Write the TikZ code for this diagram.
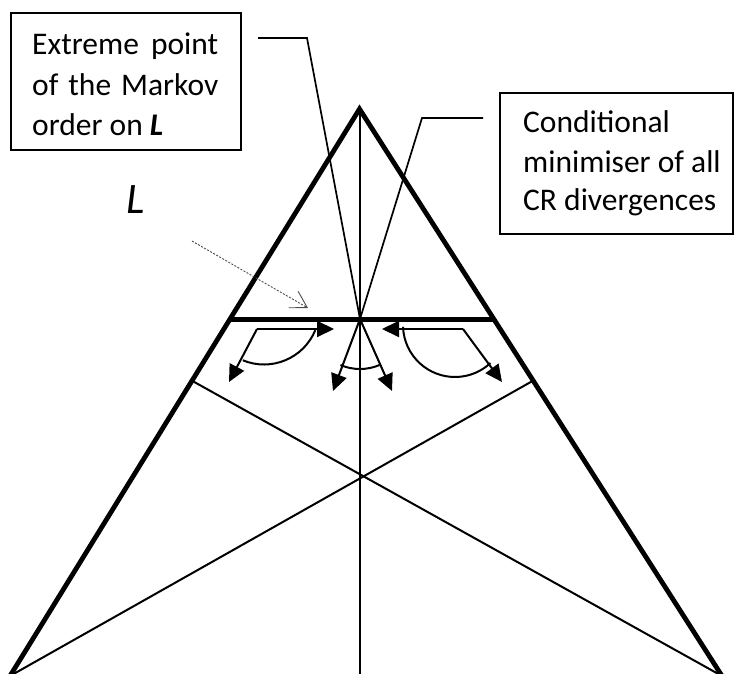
\documentclass[tikz,border=0pt]{standalone}
\usepackage{fontspec}
\setmainfont{Carlito}
\usetikzlibrary{arrows.meta}
\begin{document}
\begin{tikzpicture}[x=1pt,y=-1pt,
  thickline/.style={line width=4.8pt},
  thinline/.style={line width=2pt},
  arr/.style={line width=2pt,-{Triangle[length=17pt,width=16pt]}},
  callout/.style={line width=1.7pt},
  box/.style={draw,line width=2pt,inner sep=0pt,anchor=north west},
  txt/.style={anchor=base west,inner sep=0pt,font=\fontsize{31.5}{40}\selectfont},
  pointer/.style={black!70,line width=0.9pt,dash pattern=on 2pt off 1.5pt,-{Straight Barb[length=16pt,width=19pt]}}]
\useasboundingbox (0,0) rectangle (734,674);
% geometry
\coordinate (A) at (359.5,109);
\coordinate (BL) at (10,676);
\coordinate (BR) at (722,676);
\coordinate (Vb) at (359.5,676);
\coordinate (ML) at (192.5,381);
\coordinate (MR) at (532.5,381);
\coordinate (Ll) at (229.7,319);
\coordinate (Lr) at (493.4,319);
\coordinate (P) at (360,319);
% triangle, medians, vertical
\draw[thickline] (BL) -- (A) -- (BR);
\draw[thinline] (A) -- (Vb);
\draw[thinline] (ML) -- (BR);
\draw[thinline] (MR) -- (BL);
\draw[line width=5pt] (Ll) -- (Lr);
% boxes
\node[box,minimum width=230pt,minimum height=137pt] (lbox) at (10,12) {};
\node[box,minimum width=233pt,minimum height=141pt] (rbox) at (499,92) {};
\node[txt] (t1) at (32,55) {\makebox[186pt][s]{Extreme point}};
\node[txt] (t2) at (32,96) {\makebox[186pt][s]{of the Markov}};
\node[txt] (t3) at (32,136) {order on \textbf{\textit{L}}};
\node[txt] (t4) at (523,133) {Conditional};
\node[txt] (t5) at (523,172) {minimiser of all};
\node[txt] (t6) at (523,211) {CR divergences};
% callouts
\coordinate (c1a) at (258,38);
\coordinate (c1b) at (307,38);
\coordinate (c2a) at (483,118);
\coordinate (c2b) at (422,118);
\draw[callout] (c1a) -- (c1b) -- (P);
\draw[callout] (c2a) -- (c2b) -- (P);
% L label and pointer
\node[inner sep=0pt,font=\fontsize{43.5}{50}\selectfont\itshape] (Llab) at (136,200) {L};
\coordinate (d1) at (192,241);
\coordinate (d2) at (308,308);
\draw[pointer] (d1) -- (d2);
% arrow groups
\coordinate (lv) at (257,329);
\coordinate (lt1) at (334,329);
\coordinate (lt2) at (229,382);
\coordinate (rv) at (463,329);
\coordinate (rt1) at (382,329);
\coordinate (rt2) at (502,382);
\coordinate (ct1) at (333,391);
\coordinate (ct2) at (392,391);
\draw[arr] (lv) -- (lt1);
\draw[arr] (lv) -- (lt2);
\draw[arr] (rv) -- (rt1);
\draw[arr] (rv) -- (rt2);
\draw[arr] (P) -- (ct1);
\draw[arr] (P) -- (ct2);
\coordinate (lac) at (264,309);
\coordinate (rac) at (455,325);
\draw[thinline] ([shift={(247.6:55.5pt)}]lac) arc[start angle=247.6,end angle=337.6,radius=55.5pt];
\draw[thinline] ([shift={(182:52pt)}]rac) arc[start angle=182,end angle=313,radius=52pt];
\draw[thinline] ([shift={(247:50pt)}]P) arc[start angle=247,end angle=293,radius=50pt];
\end{tikzpicture}
\end{document}
